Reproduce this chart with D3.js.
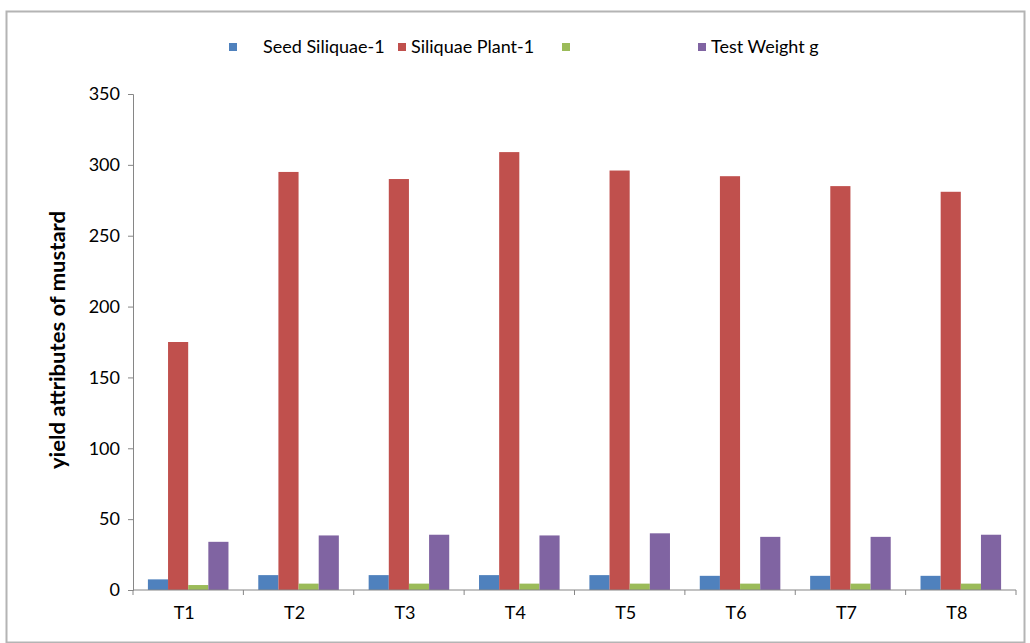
<!DOCTYPE html>
<html>
<head>
<meta charset="utf-8">
<script src="https://cdn.jsdelivr.net/npm/d3@7"></script>
<style>
  body { margin: 0; background: #fff; }
  text { font-family: Lato, "Open Sans", "Liberation Sans", sans-serif; fill: #000; }
</style>
</head>
<body>
<svg id="chart" width="1030" height="643"></svg>
<script>
// treatments on x axis
var categories = ["T1", "T2", "T3", "T4", "T5", "T6", "T7", "T8"];

// series names as in legend (third one has no visible label)
var seriesNames = ["Seed Siliquae-1", "Siliquae Plant-1", "", "Test Weight g"];

// values
var seedSiliquae   = [7.5, 10.5, 10.5, 10.5, 10.5, 10, 10, 10];
var siliquaePlant  = [175, 295, 290, 309, 296, 292, 285, 281];
var thirdSeries    = [3.5, 4.5, 4.5, 4.5, 4.5, 4.5, 4.5, 4.5];
var testWeight     = [34, 38.5, 39, 38.5, 40, 37.5, 37.5, 39];

var yTicks = [0, 50, 100, 150, 200, 250, 300, 350];

var colors = ["#4F81BD", "#C0504D", "#9BBB59", "#8064A2"];
var allSeries = [seedSiliquae, siliquaePlant, thirdSeries, testWeight];

var svg = d3.select("#chart");

// outer chart frame
svg.append("rect")
    .attr("x", 6.5).attr("y", 11.5)
    .attr("width", 1018).attr("height", 631)
    .attr("fill", "#fff")
    .attr("stroke", "#b4b4b4").attr("stroke-width", 2);

var margin = { left: 133, right: 1016, top: 94, bottom: 590 };

var x0 = d3.scaleBand()
    .domain(categories)
    .range([margin.left, margin.right])
    .paddingInner(0.27)
    .paddingOuter(0.135);

var x1 = d3.scaleBand()
    .domain(d3.range(allSeries.length))
    .range([0, x0.bandwidth()]);

var y = d3.scaleLinear()
    .domain([0, 350])
    .range([margin.bottom, margin.top]);

// bars
var groups = svg.append("g")
  .selectAll("g")
  .data(allSeries)
  .enter().append("g")
    .attr("fill", function(d, i) { return colors[i]; });

groups.selectAll("rect")
    .data(function(d, i) { return d.map(function(v, j) { return { s: i, c: categories[j], v: v }; }); })
  .enter().append("rect")
    .attr("x", function(d) { return x0(d.c) + x1(d.s); })
    .attr("y", function(d) { return y(d.v); })
    .attr("width", x1.bandwidth())
    .attr("height", function(d) { return y(0) - y(d.v); });

// y axis
var yAxis = svg.append("g")
    .attr("transform", "translate(" + margin.left + ",0)")
    .call(d3.axisLeft(y).tickValues(yTicks).tickSize(5).tickPadding(8));
yAxis.selectAll("text").style("font-size", "18px");

// x axis - ticks between categories like excel
var xAxis = svg.append("g")
    .attr("transform", "translate(0," + margin.bottom + ")");
xAxis.append("line")
    .attr("x1", margin.left).attr("x2", margin.right)
    .attr("stroke", "#868686");
var step = x0.step();
xAxis.selectAll(".sep")
    .data(d3.range(categories.length + 1))
  .enter().append("line")
    .attr("x1", function(i) { return margin.left + i * step; })
    .attr("x2", function(i) { return margin.left + i * step; })
    .attr("y1", 0).attr("y2", 5)
    .attr("stroke", "#868686");
xAxis.selectAll(".lbl")
    .data(categories)
  .enter().append("text")
    .attr("x", function(d) { return x0(d) + x0.bandwidth() / 2 - 4; })
    .attr("y", 29)
    .attr("text-anchor", "middle")
    .style("font-size", "18px")
    .text(function(d) { return d; });

svg.selectAll(".domain, .tick line").attr("stroke", "#868686");

// y axis title
svg.append("text")
    .attr("transform", "translate(65,340) rotate(-90)")
    .attr("text-anchor", "middle")
    .style("font-size", "20px")
    .style("font-weight", "bold")
    .attr("textLength", 258)
    .attr("lengthAdjust", "spacingAndGlyphs")
    .text("yield attributes of mustard");

// legend
var legendX = [229, 398, 562, 698];
var legend = svg.append("g").selectAll("g")
    .data(seriesNames)
  .enter().append("g")
    .attr("transform", function(d, i) { return "translate(" + legendX[i] + ",47)"; });
legend.append("rect")
    .attr("x", 0).attr("y", -4)
    .attr("width", 8).attr("height", 8)
    .attr("fill", function(d, i) { return colors[i]; });
legend.append("text")
    .attr("x", function(d, i) { return i == 0 ? 34 : 13; })
    .attr("y", 6)
    .style("font-size", "18px")
    .text(function(d) { return d; });
</script>
</body>
</html>
